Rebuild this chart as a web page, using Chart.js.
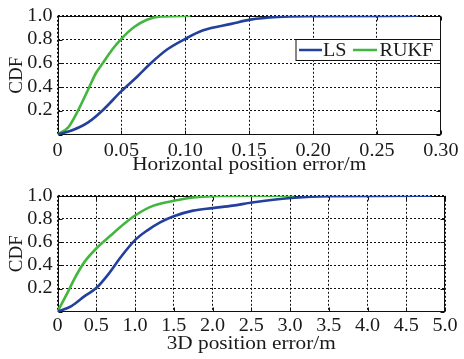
<!DOCTYPE html>
<html><head><meta charset="utf-8">
<script src="https://cdn.jsdelivr.net/npm/chart.js@4.4.1/dist/chart.umd.min.js"></script>
<style>
html,body{margin:0;padding:0;background:#fff;}
#w{position:relative;width:464px;height:359px;overflow:hidden;}
canvas{position:absolute;left:0;display:block;}
</style>
</head><body>
<div id="w">
<canvas id="c1" width="464" height="180" style="top:0"></canvas>
<canvas id="c2" width="464" height="179" style="top:180px"></canvas>
</div>
<script>
// ---- data ----
const lsHx = [0, 0.011, 0.024, 0.035, 0.050, 0.0625, 0.073, 0.086, 0.100, 0.114, 0.136, 0.151, 0.172, 0.2, 0.282];
const lsHy = [0, 0.033, 0.102, 0.2, 0.365, 0.489, 0.6, 0.718, 0.806, 0.878, 0.932, 0.968, 0.99, 0.997, 1.0];
const rukfHx = [0, 0.0084, 0.016, 0.024, 0.030, 0.0354, 0.043, 0.050, 0.060, 0.070, 0.081, 0.104];
const rukfHy = [0, 0.06, 0.2, 0.379, 0.516, 0.6, 0.718, 0.806, 0.905, 0.967, 0.994, 1.0];

const ls3x = [0, 0.18, 0.35, 0.5, 0.65, 0.82, 1.0, 1.16, 1.33, 1.5, 1.75, 2.0, 2.26, 2.51, 3.01, 3.51, 4.82];
const ls3y = [0, 0.049, 0.134, 0.204, 0.318, 0.474, 0.617, 0.702, 0.773, 0.824, 0.872, 0.894, 0.915, 0.942, 0.981, 0.997, 1.0];
const rukf3x = [0, 0.138, 0.223, 0.351, 0.5, 0.69, 0.86, 1.0, 1.24, 1.5, 1.75, 2.0, 2.5, 3.06];
const rukf3y = [0, 0.176, 0.29, 0.432, 0.545, 0.659, 0.758, 0.83, 0.915, 0.957, 0.986, 0.997, 1.0, 1.0];

const seriesNames = ['LS', 'RUKF'];
const xTitleTop = 'Horizontal position error/m';
const xTitleBottom = '3D position error/m';
const yTitle = 'CDF';
const xTicksTop = [0, 0.05, 0.10, 0.15, 0.20, 0.25, 0.30];
const xTicksBottom = [0, 0.5, 1.0, 1.5, 2.0, 2.5, 3.0, 3.5, 4.0, 4.5, 5.0];
const yTicks = [0, 0.2, 0.4, 0.6, 0.8, 1.0];

// ---- style ----
const BLUE = '#23409c';
const GREEN = '#42b63e';
const FONT = "'Liberation Serif'";
const TXT = '#1a1a1a';
const SX = 1.12;

function stretchText(ctx, sx) {
  const f = ctx.fillText.bind(ctx);
  const m = ctx.measureText.bind(ctx);
  ctx.fillText = function (t, x, y, mw) {
    const tr = ctx.getTransform();
    if (Math.abs(tr.b) > 1e-6) return f(t, x, y);
    ctx.save(); ctx.translate(x, y); ctx.scale(sx, 1); f(t, 0, 0); ctx.restore();
  };
  ctx.measureText = function (t) {
    const r = m(t);
    const tr = ctx.getTransform();
    if (Math.abs(tr.b) > 1e-6) return r;
    return { width: r.width * sx, actualBoundingBoxAscent: r.actualBoundingBoxAscent,
      actualBoundingBoxDescent: r.actualBoundingBoxDescent,
      actualBoundingBoxLeft: r.actualBoundingBoxLeft * sx, actualBoundingBoxRight: r.actualBoundingBoxRight * sx };
  };
}

const pts = (xs, ys) => xs.map((x, i) => ({ x: x, y: ys[i] }));

const framePlugin = {
  id: 'frame',
  beforeDatasetsDraw(chart) {
    const { ctx, chartArea: a, scales } = chart;
    ctx.save();
    ctx.strokeStyle = '#111';
    ctx.lineWidth = 1;
    ctx.setLineDash([]);
    const L = Math.round(a.left) + 0.5, R = Math.round(a.right) - 0.5;
    const T = Math.round(a.top) + 0.5, B = Math.round(a.bottom) - 0.5;
    ctx.beginPath();
    const tl = 4;
    scales.x.ticks.forEach(t => {
      const px = Math.round(scales.x.getPixelForValue(t.value)) + 0.5;
      ctx.moveTo(px, B); ctx.lineTo(px, B - tl);
      ctx.moveTo(px, T); ctx.lineTo(px, T + tl);
    });
    scales.y.ticks.forEach(t => {
      const py = Math.round(scales.y.getPixelForValue(t.value)) + 0.5;
      ctx.moveTo(L, py); ctx.lineTo(L + tl, py);
      ctx.moveTo(R, py); ctx.lineTo(R - tl, py);
    });
    ctx.stroke();
    ctx.strokeRect(L, T, R - L, B - T);
    ctx.restore();
  }
};

const legendPlugin = {
  id: 'boxlegend',
  afterDatasetsDraw(chart, args, opts) {
    if (!opts.show) return;
    const { ctx, chartArea: a } = chart;
    const right = Math.round(a.right) - 0.5;
    const left = right - 144.5;
    const top = 39.5, bottom = 60.5;
    ctx.save();
    ctx.fillStyle = '#fff';
    ctx.fillRect(left, top, right - left, bottom - top);
    ctx.strokeStyle = '#111'; ctx.lineWidth = 1; ctx.setLineDash([]);
    ctx.strokeRect(left, top, right - left, bottom - top);
    const yc = 50;
    const ds = chart.data.datasets;
    const items = [[left + 3, left + 26, left + 27], [left + 57, left + 81, left + 83.5]];
    ds.forEach((d, i) => {
      const it = items[i];
      ctx.strokeStyle = d.borderColor; ctx.lineWidth = 2.5;
      ctx.beginPath(); ctx.moveTo(it[0], yc); ctx.lineTo(it[1], yc); ctx.stroke();
      ctx.fillStyle = TXT; ctx.font = '18px ' + FONT;
      ctx.textAlign = 'left'; ctx.textBaseline = 'middle';
      ctx.fillText(d.label, it[2], yc + 1);
    });
    ctx.restore();
  }
};

function makeChart(id, d1x, d1y, d2x, d2y, xmax, xTicks, xdec, xTitle, padTop, plotBottom, canvasH, showLegend, tickPad) {
  const canvas = document.getElementById(id);
  const ctx = canvas.getContext('2d');
  stretchText(ctx, SX);
  return new Chart(ctx, {
    type: 'line',
    data: {
      datasets: [
        { label: seriesNames[0], data: pts(d1x, d1y), borderColor: BLUE, borderWidth: 2.6,
          pointRadius: 0, cubicInterpolationMode: 'monotone', fill: false },
        { label: seriesNames[1], data: pts(d2x, d2y), borderColor: GREEN, borderWidth: 2.6,
          pointRadius: 0, cubicInterpolationMode: 'monotone', fill: false }
      ]
    },
    options: {
      responsive: false, animation: false, devicePixelRatio: 1,
      layout: { padding: { top: padTop, right: 19, left: 0, bottom: 0 } },
      plugins: { legend: { display: false }, tooltip: { enabled: false },
        boxlegend: { show: showLegend } },
      scales: {
        x: {
          type: 'linear', min: 0, max: xmax,
          afterBuildTicks: s => { s.ticks = xTicks.map(v => ({ value: v })); },
          afterFit: s => { s.height = canvasH - plotBottom; },
          ticks: { color: TXT, font: { family: FONT, size: 18 }, padding: tickPad, maxRotation: 0, autoSkip: false,
            callback: v => v === 0 ? '0' : v.toFixed(xdec) },
          grid: { color: '#111', lineWidth: 1, drawTicks: false },
          border: { display: false, dash: [2, 2] },
          title: { display: true, text: xTitle, color: TXT, font: { family: FONT, size: 19 },
            padding: { top: 4, bottom: 4 } }
        },
        y: {
          type: 'linear', min: 0, max: 1,
          afterBuildTicks: s => { s.ticks = yTicks.map(v => ({ value: v })); },
          afterFit: s => { s.width = 57.5; },
          ticks: { color: TXT, font: { family: FONT, size: 18 }, padding: 5, autoSkip: false,
            callback: v => v === 0 ? '' : v.toFixed(1) },
          grid: { color: '#111', lineWidth: 1, drawTicks: false },
          border: { display: false, dash: [2, 2] },
          title: { display: true, text: yTitle, color: TXT, font: { family: FONT, size: 19 },
            padding: { top: 6, bottom: 6 } }
        }
      }
    },
    plugins: [framePlugin, legendPlugin]
  });
}

function build() {
  makeChart('c1', lsHx, lsHy, rukfHx, rukfHy, 0.3, xTicksTop, 2, xTitleTop, 13.5, 134.5, 180, true, 5.5);
  makeChart('c2', ls3x, ls3y, rukf3x, rukf3y, 5.0, xTicksBottom, 1, xTitleBottom, 13.3, 131.7, 179, false, 3.5);
}
if (document.fonts && document.fonts.load) {
  Promise.all([document.fonts.load("18px 'Liberation Serif'"), document.fonts.load("19px 'Liberation Serif'")])
    .then(build, build);
} else { build(); }
</script>
</body></html>
